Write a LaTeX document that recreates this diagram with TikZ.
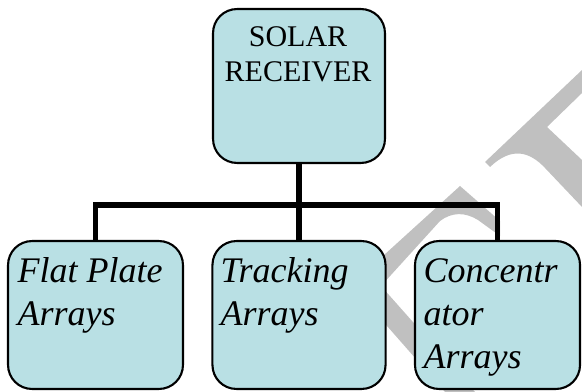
\documentclass[tikz,border=0pt]{standalone}
\usepackage{fontspec}
\setmainfont{Liberation Serif}
\definecolor{boxfill}{RGB}{185,224,228}
\definecolor{markgray}{RGB}{192,192,192}

\begin{document}
\begin{tikzpicture}[
x=0.3333pt, y=-0.3333pt,
box/.style={draw, line width=0.7pt, rounded corners=8pt, fill=boxfill, inner sep=0pt},
headtext/.style={font=\fontsize{10}{11.7}\selectfont, align=center, anchor=base, inner sep=0pt},
boxtext/.style={font=\fontsize{12}{14.3}\selectfont\itshape, align=left, anchor=base west, inner sep=0pt},
link/.style={line width=1.7pt, line join=miter}
]
\useasboundingbox (0,0) rectangle (582,391);

% watermark pieces
\fill[markgray] (485,162) -- (582,70) -- (582,93) -- (547,127) -- (582,160) -- (582,207)
  -- (545,168) .. controls (530,152) and (512,146) .. (490,167) -- cycle;
\fill[markgray] (460,186) -- (500,221) -- (500,236) -- (478,220)
  .. controls (465,212) and (452,212) .. (440,221) -- (381,286) -- (475,392)
  -- (445,392) -- (351,285) -- cycle;

\node[box, minimum width=57.3pt, minimum height=51.3pt] (solar) at (299,86) {};
\node[box, minimum width=58.3pt, minimum height=49.3pt] (flat) at (95.5,315) {};
\node[box, minimum width=57.7pt, minimum height=49.3pt] (track) at (299,315) {};
\node[box, minimum width=55pt, minimum height=49.3pt] (conc) at (497.5,315) {};

% anchors sit on the last line
\node[headtext] (solartext) at (298,82) {SOLAR\\RECEIVER};
\node[boxtext] (flattext) at (17,325) {Flat Plate\\Arrays};
\node[boxtext] (tracktext) at (220,325) {Tracking\\Arrays};
\node[boxtext] (conctext) at (423,368) {Concentr\\ator\\Arrays};

\coordinate (bus) at (299,205);
\draw[link] (solar.south) -- (bus);
\draw[link] (flat.north) |- (bus) -| (conc.north);
\draw[link] (track.north) -- (bus);

\end{tikzpicture}
\end{document}
